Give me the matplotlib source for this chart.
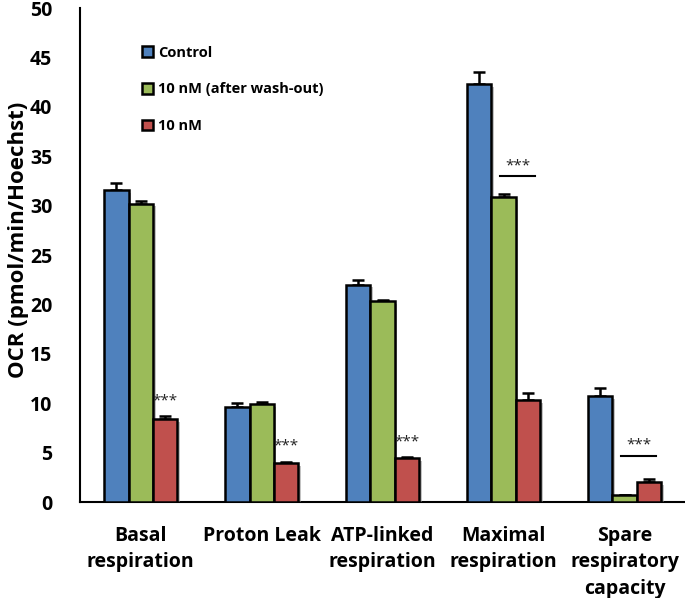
import numpy as np
import matplotlib.pyplot as plt
import matplotlib.patheffects as pe

plt.rcParams['font.family'] = ['Open Sans', 'DejaVu Sans']

# data
categories = ["Basal\nrespiration", "Proton Leak", "ATP-linked\nrespiration",
              "Maximal\nrespiration", "Spare\nrespiratory\ncapacity"]
series = ["Control", "10 nM (after wash-out)", "10 nM"]
control = [31.6, 9.6, 22.0, 42.3, 10.7]
control_err = [0.7, 0.4, 0.5, 1.2, 0.8]
washout = [30.2, 9.9, 20.3, 30.9, 0.7]
washout_err = [0.3, 0.2, 0.15, 0.25, 0.05]
nm10 = [8.4, 3.9, 4.45, 10.3, 2.0]
nm10_err = [0.3, 0.2, 0.12, 0.7, 0.3]
colors = ["#4F81BD", "#9BBB59", "#C0504D"]

fig = plt.figure(figsize=(6.85, 5.98), dpi=100)
ax = fig.add_axes([0.117, 0.1605, 0.883, 0.826])

x = np.arange(len(categories))
w = 0.2
shadow = [pe.SimplePatchShadow(offset=(2, -2), shadow_rgbFace="#888888", alpha=0.5), pe.Normal()]
for i, (vals, errs, c, lab) in enumerate(zip([control, washout, nm10],
                                             [control_err, washout_err, nm10_err],
                                             colors, series)):
    pos = x + (i - 1) * w
    bars = ax.bar(pos, vals, w, color=c, edgecolor="black", linewidth=1.8, label=lab, zorder=3)
    for b in bars:
        b.set_path_effects(shadow)
    ax.errorbar(pos, vals, yerr=[np.zeros(len(vals)), errs], fmt="none", ecolor="black",
                elinewidth=1.8, capsize=4, capthick=1.8, zorder=2)

# significance marks above the 10 nM bars
for j in [0, 1, 2]:
    ax.text(x[j] + w, nm10[j] + nm10_err[j] + 0.8, "***", ha="center", va="bottom",
            fontsize=11, color="#222222")
# bracket lines for maximal and spare
for j, yl in [(3, 33.0), (4, 4.7)]:
    ax.plot([x[j] - 0.03, x[j] + w * 1.3], [yl, yl], color="black", lw=1.5)
    ax.text(x[j] + 0.12, yl + 0.3, "***", ha="center", va="bottom", fontsize=11, color="#222222")

ax.set_xlim(-0.5, 4.5)
ax.set_ylim(0, 50)
ax.set_yticks(np.arange(0, 51, 5))
ax.set_xticks(x)
ax.set_xticklabels(categories, fontsize=14, fontweight="bold", linespacing=1.45)
ax.tick_params(axis="y", length=0, pad=20, labelsize=14)
ax.tick_params(axis="x", length=0, pad=17)
for t in ax.get_yticklabels():
    t.set_fontweight("bold")
ax.set_ylabel("OCR (pmol/min/Hoechst)", fontsize=16, fontweight="bold")
ax.yaxis.set_label_coords(-0.085, 0.53)

for s in ["top", "right"]:
    ax.spines[s].set_visible(False)
for s in ["left", "bottom"]:
    ax.spines[s].set_linewidth(1.5)

leg = ax.legend(loc="upper left", bbox_to_anchor=(0.08, 0.95), frameon=False,
                prop={"weight": "bold", "size": 10.5}, labelspacing=1.55,
                handlelength=0.75, handleheight=0.75, handletextpad=0.35)
for h in leg.legend_handles:
    h.set_path_effects([])

fig.savefig("out.png", dpi=100)
